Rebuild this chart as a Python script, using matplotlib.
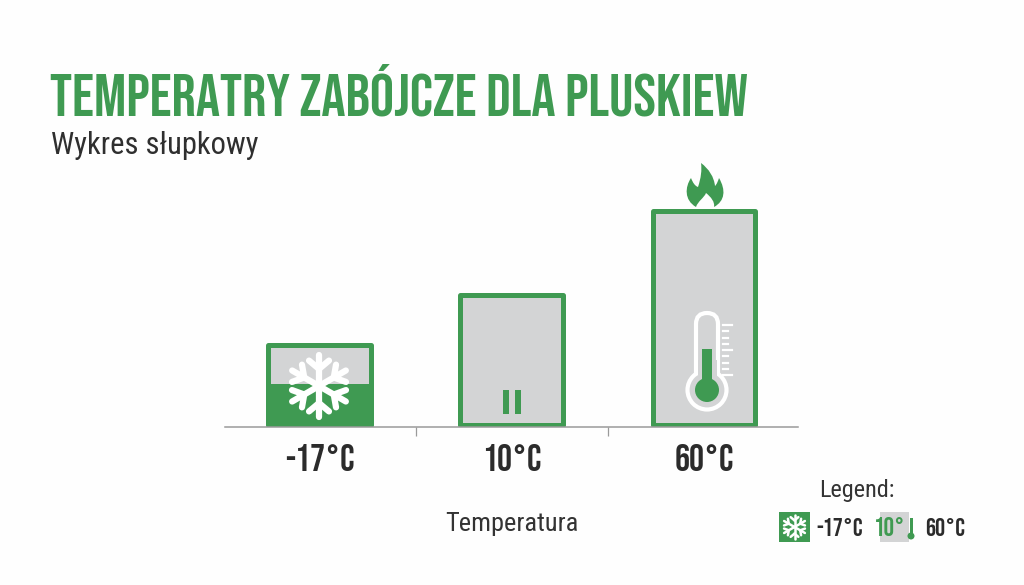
import numpy as np
import matplotlib
matplotlib.use("Agg")
import matplotlib.pyplot as plt
from matplotlib.path import Path
from matplotlib.patches import PathPatch, Circle, FancyBboxPatch, Rectangle

# dane
categories = ["-17°C", "10°C", "60°C"]
bar_values = [37, 60, 99]
cold_fill = 19
title = "TEMPERATRY ZABÓJCZE DLA PLUSKIEW"
subtitle = "Wykres słupkowy"
x_label = "Temperatura"

GREEN = "#3f9a52"
GRAY = "#d3d4d5"
DARK = "#2b2b2b"
BG = "#fefefe"
HEAD = "Bebas Neue"
BODY = "Roboto Condensed"

W, H = 1024, 585
fig = plt.figure(figsize=(W / 100, H / 100), dpi=100, facecolor=BG)

# os wykresu: x 225-798 px, y 150-427 px
ax = fig.add_axes([225 / W, 1 - 427 / H, 573 / W, 277 / H], facecolor="none")
x = np.arange(len(categories))
ax.bar(x, bar_values, width=0.535, bottom=0.8, color=GRAY, edgecolor=GREEN,
       linewidth=3.6, joinstyle="round", zorder=2)
ax.bar(x[0], cold_fill, width=0.535, bottom=0.8, color=GREEN, zorder=3)
ax.set_xlim(-0.4915, 2.489)
ax.set_ylim(0, 127.8)
ax.set_yticks([])
ax.set_xticks(x)
ax.set_xticklabels(categories, family=HEAD, fontsize=27, color=DARK)
ax.set_xticks([0.5, 1.5], minor=True)
ax.tick_params(axis="x", which="major", length=0, pad=12)
ax.tick_params(axis="x", which="minor", length=6.5, width=0.9, color="#9a9a9a")
for s in ["top", "left", "right"]:
    ax.spines[s].set_visible(False)
ax.spines["bottom"].set_color("#9a9a9a")
ax.spines["bottom"].set_linewidth(1.1)
ax.spines["bottom"].set_zorder(5)
ax.set_xlabel(x_label, family=BODY, fontsize=19, color="#333333")
ax.xaxis.set_label_coords(0.5, -(524 - 427) / 277)
ax.xaxis.label.set_verticalalignment("center")

# warstwa na ikony, wspolrzedne w pikselach
ov = fig.add_axes([0, 0, 1, 1], facecolor="none", zorder=10)
ov.set_xlim(0, W)
ov.set_ylim(H, 0)
ov.axis("off")


def snowflake(cx, cy, r, color="white", lw=4.5):
    for a in np.deg2rad(np.arange(90, 450, 60)):
        d = np.array([np.cos(a), np.sin(a)])
        ov.plot([cx, cx + r * d[0]], [cy, cy + r * d[1]], color=color, lw=lw,
                solid_capstyle="round")
        for side in (-1, 1):
            b = a + side * np.deg2rad(50)
            start = np.array([cx, cy]) + 0.55 * r * d
            end = start + 0.42 * r * np.array([np.cos(b), np.sin(b)])
            ov.plot([start[0], end[0]], [start[1], end[1]], color=color, lw=lw,
                    solid_capstyle="round")


def thermometer(cx, top, bulb_y):
    # biala obudowa
    ov.add_patch(FancyBboxPatch((cx - 11, top), 22, bulb_y - top, boxstyle="round,pad=0,rounding_size=11",
                                fc=GRAY, ec="white", lw=3, zorder=2))
    ov.add_patch(Circle((cx, bulb_y), 19.5, fc=GRAY, ec="white", lw=3, zorder=3))
    ov.add_patch(Rectangle((cx - 9.5, bulb_y - 30), 19, 28, fc=GRAY, ec="none", zorder=4))
    ov.add_patch(Circle((cx, bulb_y), 12, fc=GREEN, ec="none", zorder=5))
    ov.add_patch(Rectangle((cx - 5, 349), 10, bulb_y - 349, fc=GREEN, ec="none", zorder=5))
    for i, y in enumerate(np.linspace(325, 375, 9)):
        ov.plot([cx + 16, cx + (25 if i % 4 == 0 else 21)], [y, y], color="white", lw=1.6, zorder=4)


def flame():
    verts = [(696, 207), (684, 200), (685, 187), (691, 178),
             (693, 183), (695, 186), (698, 187),
             (701, 178), (702, 170), (701, 163),
             (709, 169), (714, 177), (715, 186),
             (717, 184), (718, 181), (719, 178),
             (726, 190), (725, 201), (714, 207),
             (715, 202), (711, 197), (706, 193),
             (704, 198), (698, 201), (696, 207)]
    codes = [Path.MOVETO] + [Path.CURVE4] * 24
    ov.add_patch(PathPatch(Path(verts, codes), fc=GREEN, ec="none"))


snowflake(319, 386, 31)
ov.add_patch(Rectangle((503, 390), 5.5, 24, fc=GREEN, ec="none"))
ov.add_patch(Rectangle((515, 390), 5.5, 24, fc=GREEN, ec="none"))
thermometer(707, 313, 390)
flame()

# teksty
t = fig.text(50 / W, 1 - 90 / H, title, family=HEAD, fontsize=40, color=GREEN, va="center")
fig.canvas.draw()
t.set_fontsize(40 * 697 / t.get_window_extent().width)
fig.text(51 / W, 1 - 145 / H, subtitle, family=BODY, fontsize=22, color="#2f2f2f", va="center")

# legenda
fig.text(857 / W, 1 - 490 / H, "Legend:", family=BODY, fontsize=17.5, color="#333333", ha="center", va="center")
ov.add_patch(Rectangle((779, 512), 31, 30, fc=GREEN, ec="none"))
snowflake(794.5, 527, 12, lw=1.8)
fig.text(816 / W, 1 - 527 / H, "-17°C", family=HEAD, fontsize=18, color=DARK, va="center")
ov.add_patch(Rectangle((880, 512), 29, 30, fc=GRAY, ec="none"))
fig.text(874 / W, 1 - 527 / H, "10°", family=HEAD, fontsize=19, color=GREEN, va="center", zorder=11)
ov.add_patch(Rectangle((909.5, 518), 3, 17, fc=GREEN, ec="none"))
ov.add_patch(Circle((911, 536), 3.5, fc=GREEN, ec="none"))
fig.text(925 / W, 1 - 527 / H, "60°C", family=HEAD, fontsize=18, color=DARK, va="center")

fig.savefig("out.png", dpi=100, facecolor=BG)
